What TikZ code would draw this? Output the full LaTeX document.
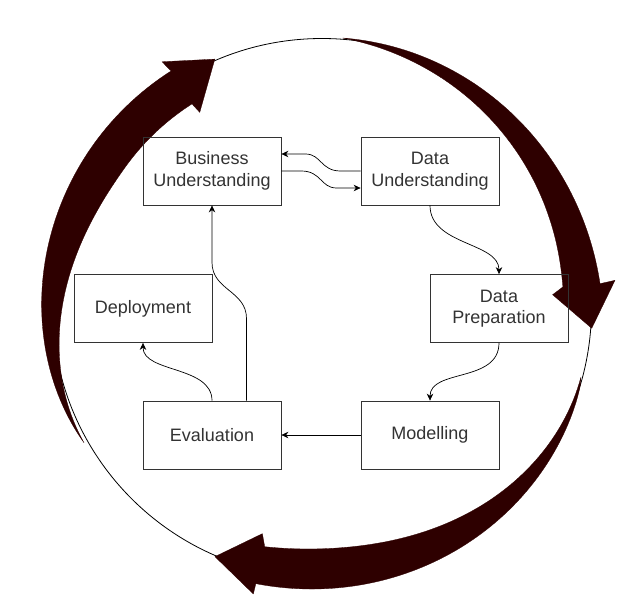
\documentclass[tikz,border=0pt]{standalone}
\usepackage{fontspec}
\setmainfont{Liberation Sans}
\usetikzlibrary{arrows.meta,calc}
\definecolor{bigarrow}{HTML}{2E0000}
\definecolor{ink}{HTML}{333333}
\begin{document}
\begin{tikzpicture}[x=1pt,y=-1pt,
  declare function={
    smst(\v)=(\v)*(\v)*(3-2*(\v));
    lfu(\t)=(\t-150.5)/87;
    lfo(\t)=281-7.5*(1-lfu(\t))^6;
    lfi(\t)=273.5-31.5*smst(min(1,lfu(\t)/0.75));
    rtu(\t)=(\t+85.6)/80.6;
    rto(\t)=270.8+8.3*rtu(\t)^3;
    rti(\t)=270.8-29*(1-(1-rtu(\t))^1.5);
    btu(\t)=(\t-15)/88.5;
    bto(\t)=268+12*sqrt(btu(\t))+3.5*btu(\t)^4;
    bti(\t)=268-27.5*smst(min(1,btu(\t)/0.8))+5*(max(0,(btu(\t)-0.8)/0.2))^2;
  },
  stagebox/.style={draw=ink, line width=0.8pt, minimum width=138pt, minimum height=68pt,
    inner sep=0pt, align=center, text=ink, font=\fontsize{18}{21.6}\selectfont},
  flow/.style={draw=black, line width=0.7pt, -{Stealth[length=7pt,width=6.5pt]}},
  cyclearrow/.style={fill=bigarrow, draw=bigarrow, line width=0.3pt, line join=round},
  ring/.style={draw=black, line width=0.8pt}]
\useasboundingbox[fill=white] (0,0) rectangle (632,595);

% big cycle
\begin{scope}[shift={(322,308)}]
  \draw[ring] (0,0) circle[radius=269.5pt];
  % left arrow (up to the top-left)
  \filldraw[cyclearrow]
    plot[domain=150.5:237.5, samples=70, variable=\t] ({lfo(\t)*cos(\t)},{lfo(\t)*sin(\t)})
    -- (237:293.6) -- (246.7:271) -- (238:230.7) --
    plot[domain=237.5:150.5, samples=70, variable=\t] ({lfi(\t)*cos(\t)},{lfi(\t)*sin(\t)})
    -- cycle;
  % right arrow (down the right side)
  \filldraw[cyclearrow]
    plot[domain=-85.6:-5, samples=70, variable=\t] ({rto(\t)*cos(\t)},{rto(\t)*sin(\t)})
    -- (-5.4:294.3) -- (4.3:270.5) -- (-3.3:231) --
    plot[domain=-5:-85.6, samples=70, variable=\t] ({rti(\t)*cos(\t)},{rti(\t)*sin(\t)})
    -- cycle;
  % bottom arrow (to the bottom-left)
  \filldraw[cyclearrow]
    plot[domain=15:103.5, samples=70, variable=\t] ({bto(\t)*cos(\t)},{bto(\t)*sin(\t)})
    -- (103.5:294.1) -- (113.3:270.7) -- (104.8:233.4) --
    plot[domain=103.5:15, samples=70, variable=\t] ({bti(\t)*cos(\t)},{bti(\t)*sin(\t)})
    -- cycle;
\end{scope}

% stages
\node[stagebox] (BU) at (212,171) {Business\\Understanding};
\node[stagebox] (DU) at (430,171) {Data\\Understanding};
\node[stagebox] (DP) at (499,308.5) {Data\\Preparation};
\node[stagebox] (Mo) at (430,435) {Modelling};
\node[stagebox] (Ev) at (212,435) {Evaluation};
\node[stagebox] (De) at (143,308.5) {Deployment};

% connectors
\draw[flow] (DU.west) -- ++(-20,0)
  .. controls +(-20,0) and +(16,0) .. ($(BU.east)+(24,-17)$)
  -- ([yshift=17pt]BU.east);
\draw[flow] (BU.east) -- ++(20,0)
  .. controls +(20,0) and +(-16,0) .. ($(DU.west)+(-24,17)$)
  -- ([yshift=-17pt]DU.west);
\draw[flow] (DU.south) .. controls +(0,40) and +(0,-32) .. (DP.north);
\draw[flow] (DP.south) .. controls +(0,40) and +(0,-32) .. (Mo.north);
\draw[flow] (Mo.west) -- (Ev.east);
\draw[flow] (Ev.north) .. controls +(0,-35) and +(0,30) .. (De.south);
\draw[flow] ([xshift=34.5pt]Ev.north) -- ++(0,-82)
  .. controls +(0,-28) and +(0,28) .. ($(BU.south)+(0,57)$)
  -- (BU.south);
\end{tikzpicture}
\end{document}
